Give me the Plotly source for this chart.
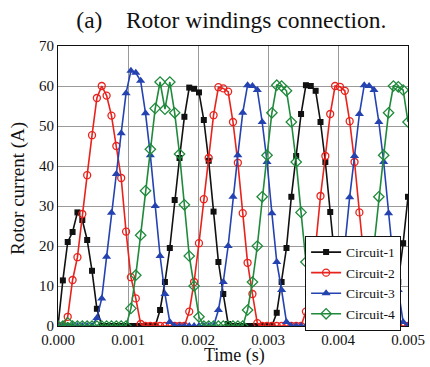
import plotly.graph_objects as go

# Sampling: 73 samples over 5 ms (step 1/14400 s)
sample_step = 1.0 / 14400.0
times = [i * sample_step for i in range(73)]

circuit_1 = [0, 11.4, 21, 23.5, 28.4, 26.5, 21.5, 13.8, 4.3,
             0, 0, 0, 0, 0, 0, 0, 0, 0, 0, 0, 0,
             4, 11, 19.5, 31.5, 42, 52.3, 59.6, 59.3, 58.4, 51.5, 41.3, 28.6, 16, 8, 0.5,
             0, 0, 0, 0, 0, 0, 0, 0, 0,
             3.3, 11, 19.5, 32.3, 42.5, 53, 60.2, 60, 58.8, 51, 41, 28.5, 16, 8, 0.5,
             0, 0, 0, 0, 0, 0, 0, 0, 0,
             3.3, 11, 20.7, 32.3]

circuit_2 = [0, 0, 2.3, 11.5, 17.2, 28, 37.7, 47.7, 57, 60, 57.6, 52.6, 45, 37, 23.6, 12.2, 6.9, 0.5,
             0, 0, 0, 0, 0, 0, 0, 0, 0,
             3.6, 11, 20.7, 31.7, 42, 52.7, 59.7, 59.4, 58.6, 51, 40.8, 28.2, 15.8, 8, 0.7,
             0, 0, 0, 0, 0, 0, 0, 0, 0,
             3.6, 11, 20, 32.5, 42.5, 53, 60, 59.8, 58.8, 51.2, 41, 28.4, 16, 8, 1,
             0, 0, 0, 0, 0, 0, 0]

circuit_3 = [0, 0, 0, 0, 0, 0, 0, 0,
             2, 6.9, 17.3, 28.3, 38, 48.2, 58.2, 63.8, 63.3, 61.3, 53.2, 42.7, 30, 17.5, 8, 1,
             0, 0, 0, 0, 0, 0, 0, 0, 0,
             4, 11, 20, 32.3, 42.7, 53.3, 60.2, 60, 59, 51, 41, 28.2, 16, 9, 1,
             0, 0, 0, 0, 0, 0, 0, 0, 0,
             4, 11, 20, 32.2, 42.5, 53, 60.2, 60, 59, 51, 41, 28.2, 16, 9, 1, 0]

circuit_4 = [0, 0, 0.8, 0, 0, 0, 0, 0, 0, 0, 0, 0, 0, 0, 0,
             4.4, 12.7, 22.7, 33.8, 44.2, 54.4, 61, 54.2, 61, 53.3, 43, 30.3, 17.5, 10, 2.3,
             0, 0, 0, 0, 0, 0, 0, 0, 0,
             4, 11, 20, 32.3, 42.7, 53.3, 60.2, 60, 58.8, 51, 41, 28.4, 16, 9, 1,
             0, 0, 0, 0, 0, 0, 0, 0, 0,
             4, 11, 20, 32.3, 42.7, 53.3, 60, 59.8, 59, 51]

x_ticks = [0.000, 0.001, 0.002, 0.003, 0.004, 0.005]
x_tick_labels = ["0.000", "0.001", "0.002", "0.003", "0.004", "0.005"]
y_ticks = [0, 10, 20, 30, 40, 50, 60, 70]

SERIF = "Times New Roman, Liberation Serif, Tinos, serif"
INK = "#111111"

series = [
    ("Circuit-1", circuit_1, INK, dict(symbol="square", size=6, color=INK)),
    ("Circuit-2", circuit_2, "#e8221c", dict(symbol="circle-open", size=7, color="#e8221c",
                                             line=dict(width=1.3))),
    ("Circuit-3", circuit_3, "#2443b0", dict(symbol="triangle-up", size=8, color="#2443b0")),
    ("Circuit-4", circuit_4, "#1f8a3b", dict(symbol="diamond-open", size=8, color="#1f8a3b",
                                             line=dict(width=1.3))),
]

fig = go.Figure()
for name, values, color, marker in series:
    fig.add_trace(go.Scatter(
        x=times, y=values, name=name, mode="lines+markers",
        line=dict(color=color, width=1.6),
        marker=marker,
    ))

fig.update_layout(
    width=430, height=367,
    margin=dict(l=58, r=22, t=46, b=41, autoexpand=False),
    paper_bgcolor="white", plot_bgcolor="white",
    font=dict(family=SERIF, size=15, color=INK),
    title=dict(text="(a)\u00a0\u00a0\u00a0\u00a0Rotor windings connection.",
               x=0.538, xref="container", xanchor="center",
               y=0.946, yref="container", yanchor="middle",
               font=dict(family=SERIF, size=23.5, color=INK)),
    showlegend=True,
    legend=dict(x=0.706, y=0.322, xanchor="left", yanchor="top",
                bgcolor="white", bordercolor=INK, borderwidth=1,
                font=dict(family=SERIF, size=13.5, color=INK),
                itemwidth=30, tracegroupgap=0),
    annotations=[
        dict(text="Time (s)", xref="paper", yref="paper", x=0.503, y=-0.104,
             xanchor="center", yanchor="middle", showarrow=False,
             font=dict(family=SERIF, size=18, color=INK)),
        dict(text="Rotor current (A)", xref="paper", yref="paper", x=-0.114, y=0.49,
             xanchor="center", yanchor="middle", showarrow=False, textangle=-90,
             font=dict(family=SERIF, size=19, color=INK)),
    ],
)

fig.update_xaxes(
    range=[0, 0.005], tickvals=x_ticks, ticktext=x_tick_labels,
    showgrid=True, gridcolor="#9a9a9a", gridwidth=1,
    showline=True, linecolor=INK, linewidth=1, mirror=True,
    ticks="", zeroline=False, automargin=False,
    tickfont=dict(family=SERIF, size=15, color=INK),
)
fig.update_yaxes(
    range=[0, 70], tickvals=y_ticks,
    showgrid=True, gridcolor="#9a9a9a", gridwidth=1,
    showline=True, linecolor=INK, linewidth=1, mirror=True,
    ticks="", zeroline=False, automargin=False,
    tickfont=dict(family=SERIF, size=15, color=INK),
)

fig.write_html("out.html")
